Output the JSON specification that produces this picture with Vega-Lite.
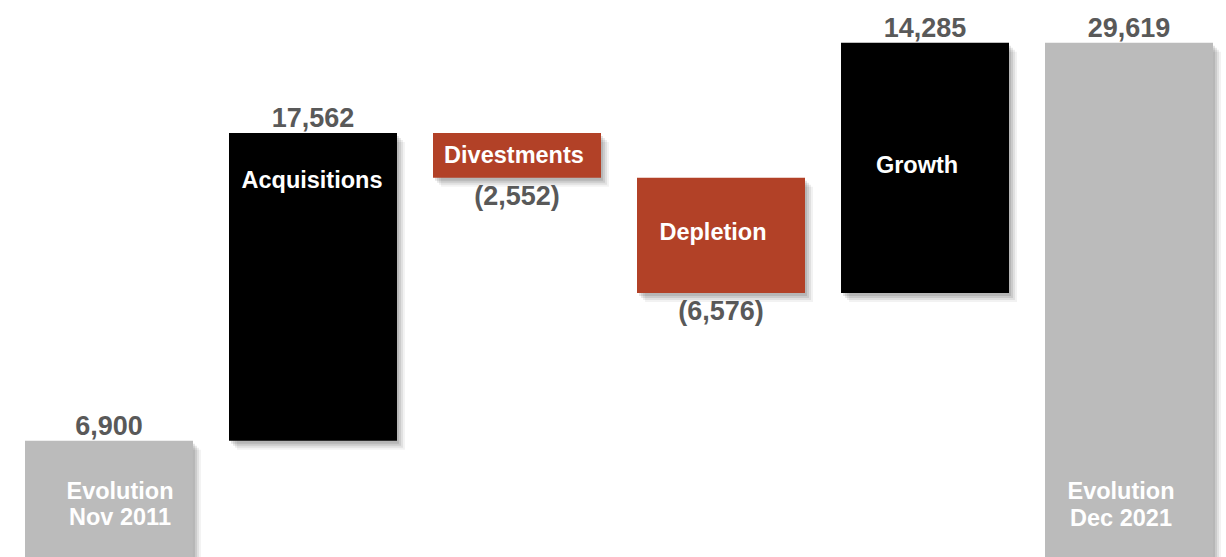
{
  "$schema": "https://vega.github.io/schema/vega-lite/v6.json",
  "width": 1226,
  "height": 557,
  "autosize": {"type": "none"},
  "padding": 0,
  "background": "white",
  "config": {"view": {"stroke": null}},
  "data": {
    "values": [
      {"step": "Evolution Nov 2011", "name": "Evolution\nNov 2011", "kind": "total", "amount": 6900, "start": 0, "end": 6900},
      {"step": "Acquisitions", "name": "Acquisitions", "kind": "increase", "amount": 17562, "start": 6900, "end": 24462},
      {"step": "Divestments", "name": "Divestments", "kind": "decrease", "amount": -2552, "start": 24462, "end": 21910},
      {"step": "Depletion", "name": "Depletion", "kind": "decrease", "amount": -6576, "start": 21910, "end": 15334},
      {"step": "Growth", "name": "Growth", "kind": "increase", "amount": 14285, "start": 15334, "end": 29619},
      {"step": "Evolution Dec 2021", "name": "Evolution\nDec 2021", "kind": "total", "amount": 29619, "start": 0, "end": 29619}
    ]
  },
  "encoding": {
    "x": {
      "field": "step", "type": "nominal", "sort": null, "axis": null,
      "scale": {"paddingInner": 0.1765, "paddingOuter": 0.0931, "align": 0.658}
    },
    "y": {
      "field": "start", "type": "quantitative", "axis": null,
      "scale": {"domain": [257, 32060], "nice": false, "zero": false}
    }
  },
  "layer": [
    {
      "mark": {"type": "bar", "color": "#000000", "opacity": 0.05, "xOffset": 8, "x2Offset": 8, "yOffset": 9, "y2Offset": 9},
      "encoding": {"y2": {"field": "end"}}
    },
    {
      "mark": {"type": "bar", "color": "#000000", "opacity": 0.07, "xOffset": 6, "x2Offset": 6, "yOffset": 7, "y2Offset": 7},
      "encoding": {"y2": {"field": "end"}}
    },
    {
      "mark": {"type": "bar", "color": "#000000", "opacity": 0.09, "xOffset": 4, "x2Offset": 4, "yOffset": 5, "y2Offset": 5},
      "encoding": {"y2": {"field": "end"}}
    },
    {
      "mark": {"type": "bar", "color": "#000000", "opacity": 0.1, "xOffset": 2, "x2Offset": 2, "yOffset": 3, "y2Offset": 3},
      "encoding": {"y2": {"field": "end"}}
    },
    {
      "mark": {"type": "bar", "opacity": 1},
      "encoding": {
        "y2": {"field": "end"},
        "color": {
          "field": "kind", "type": "nominal", "legend": null,
          "scale": {"domain": ["total", "increase", "decrease"], "range": ["#BBBBBB", "#000000", "#B24127"]}
        }
      }
    },
    {
      "transform": [{"filter": "datum.amount > 0"}],
      "mark": {"type": "text", "font": "Liberation Sans", "fontWeight": "bold", "fontSize": 27, "color": "#595959", "baseline": "alphabetic", "align": "center", "dy": -6},
      "encoding": {"y": {"field": "end", "type": "quantitative"}, "text": {"field": "amount", "type": "quantitative", "format": "(,.0f"}}
    },
    {
      "transform": [{"filter": "datum.amount < 0"}],
      "mark": {"type": "text", "font": "Liberation Sans", "fontWeight": "bold", "fontSize": 27, "color": "#595959", "baseline": "alphabetic", "align": "center", "dy": 27.5},
      "encoding": {"y": {"field": "end", "type": "quantitative"}, "text": {"field": "amount", "type": "quantitative", "format": "(,.0f"}}
    },
    {
      "transform": [{"filter": "datum.step == 'Evolution Nov 2011'"}],
      "mark": {"type": "text", "font": "Liberation Sans", "fontWeight": "bold", "fontSize": 23.5, "color": "#FFFFFF", "baseline": "alphabetic", "align": "center", "lineBreak": "\n", "lineHeight": 26.7, "dy": -62.7, "dx": 11},
      "encoding": {"y": {"field": "start", "type": "quantitative"}, "text": {"field": "name"}}
    },
    {
      "transform": [{"filter": "datum.step == 'Evolution Dec 2021'"}],
      "mark": {"type": "text", "font": "Liberation Sans", "fontWeight": "bold", "fontSize": 23.5, "color": "#FFFFFF", "baseline": "alphabetic", "align": "center", "lineBreak": "\n", "lineHeight": 26.7, "dy": -62.2, "dx": -8},
      "encoding": {"y": {"field": "start", "type": "quantitative"}, "text": {"field": "name"}}
    },
    {
      "transform": [{"filter": "datum.step == 'Acquisitions'"}],
      "mark": {"type": "text", "font": "Liberation Sans", "fontWeight": "bold", "fontSize": 23.5, "color": "#FFFFFF", "baseline": "alphabetic", "align": "center", "dy": 55.2, "dx": -1},
      "encoding": {"y": {"field": "end", "type": "quantitative"}, "text": {"field": "name"}}
    },
    {
      "transform": [{"filter": "datum.step == 'Divestments'"}],
      "mark": {"type": "text", "font": "Liberation Sans", "fontWeight": "bold", "fontSize": 23.5, "color": "#FFFFFF", "baseline": "alphabetic", "align": "center", "dy": 30.2, "dx": -3},
      "encoding": {"y": {"field": "start", "type": "quantitative"}, "text": {"field": "name"}}
    },
    {
      "transform": [{"filter": "datum.step == 'Depletion'"}],
      "mark": {"type": "text", "font": "Liberation Sans", "fontWeight": "bold", "fontSize": 23.5, "color": "#FFFFFF", "baseline": "alphabetic", "align": "center", "dy": 62.2, "dx": -8},
      "encoding": {"y": {"field": "start", "type": "quantitative"}, "text": {"field": "name"}}
    },
    {
      "transform": [{"filter": "datum.step == 'Growth'"}],
      "mark": {"type": "text", "font": "Liberation Sans", "fontWeight": "bold", "fontSize": 23.5, "color": "#FFFFFF", "baseline": "alphabetic", "align": "center", "dy": 129.9, "dx": -8},
      "encoding": {"y": {"field": "end", "type": "quantitative"}, "text": {"field": "name"}}
    }
  ]
}
